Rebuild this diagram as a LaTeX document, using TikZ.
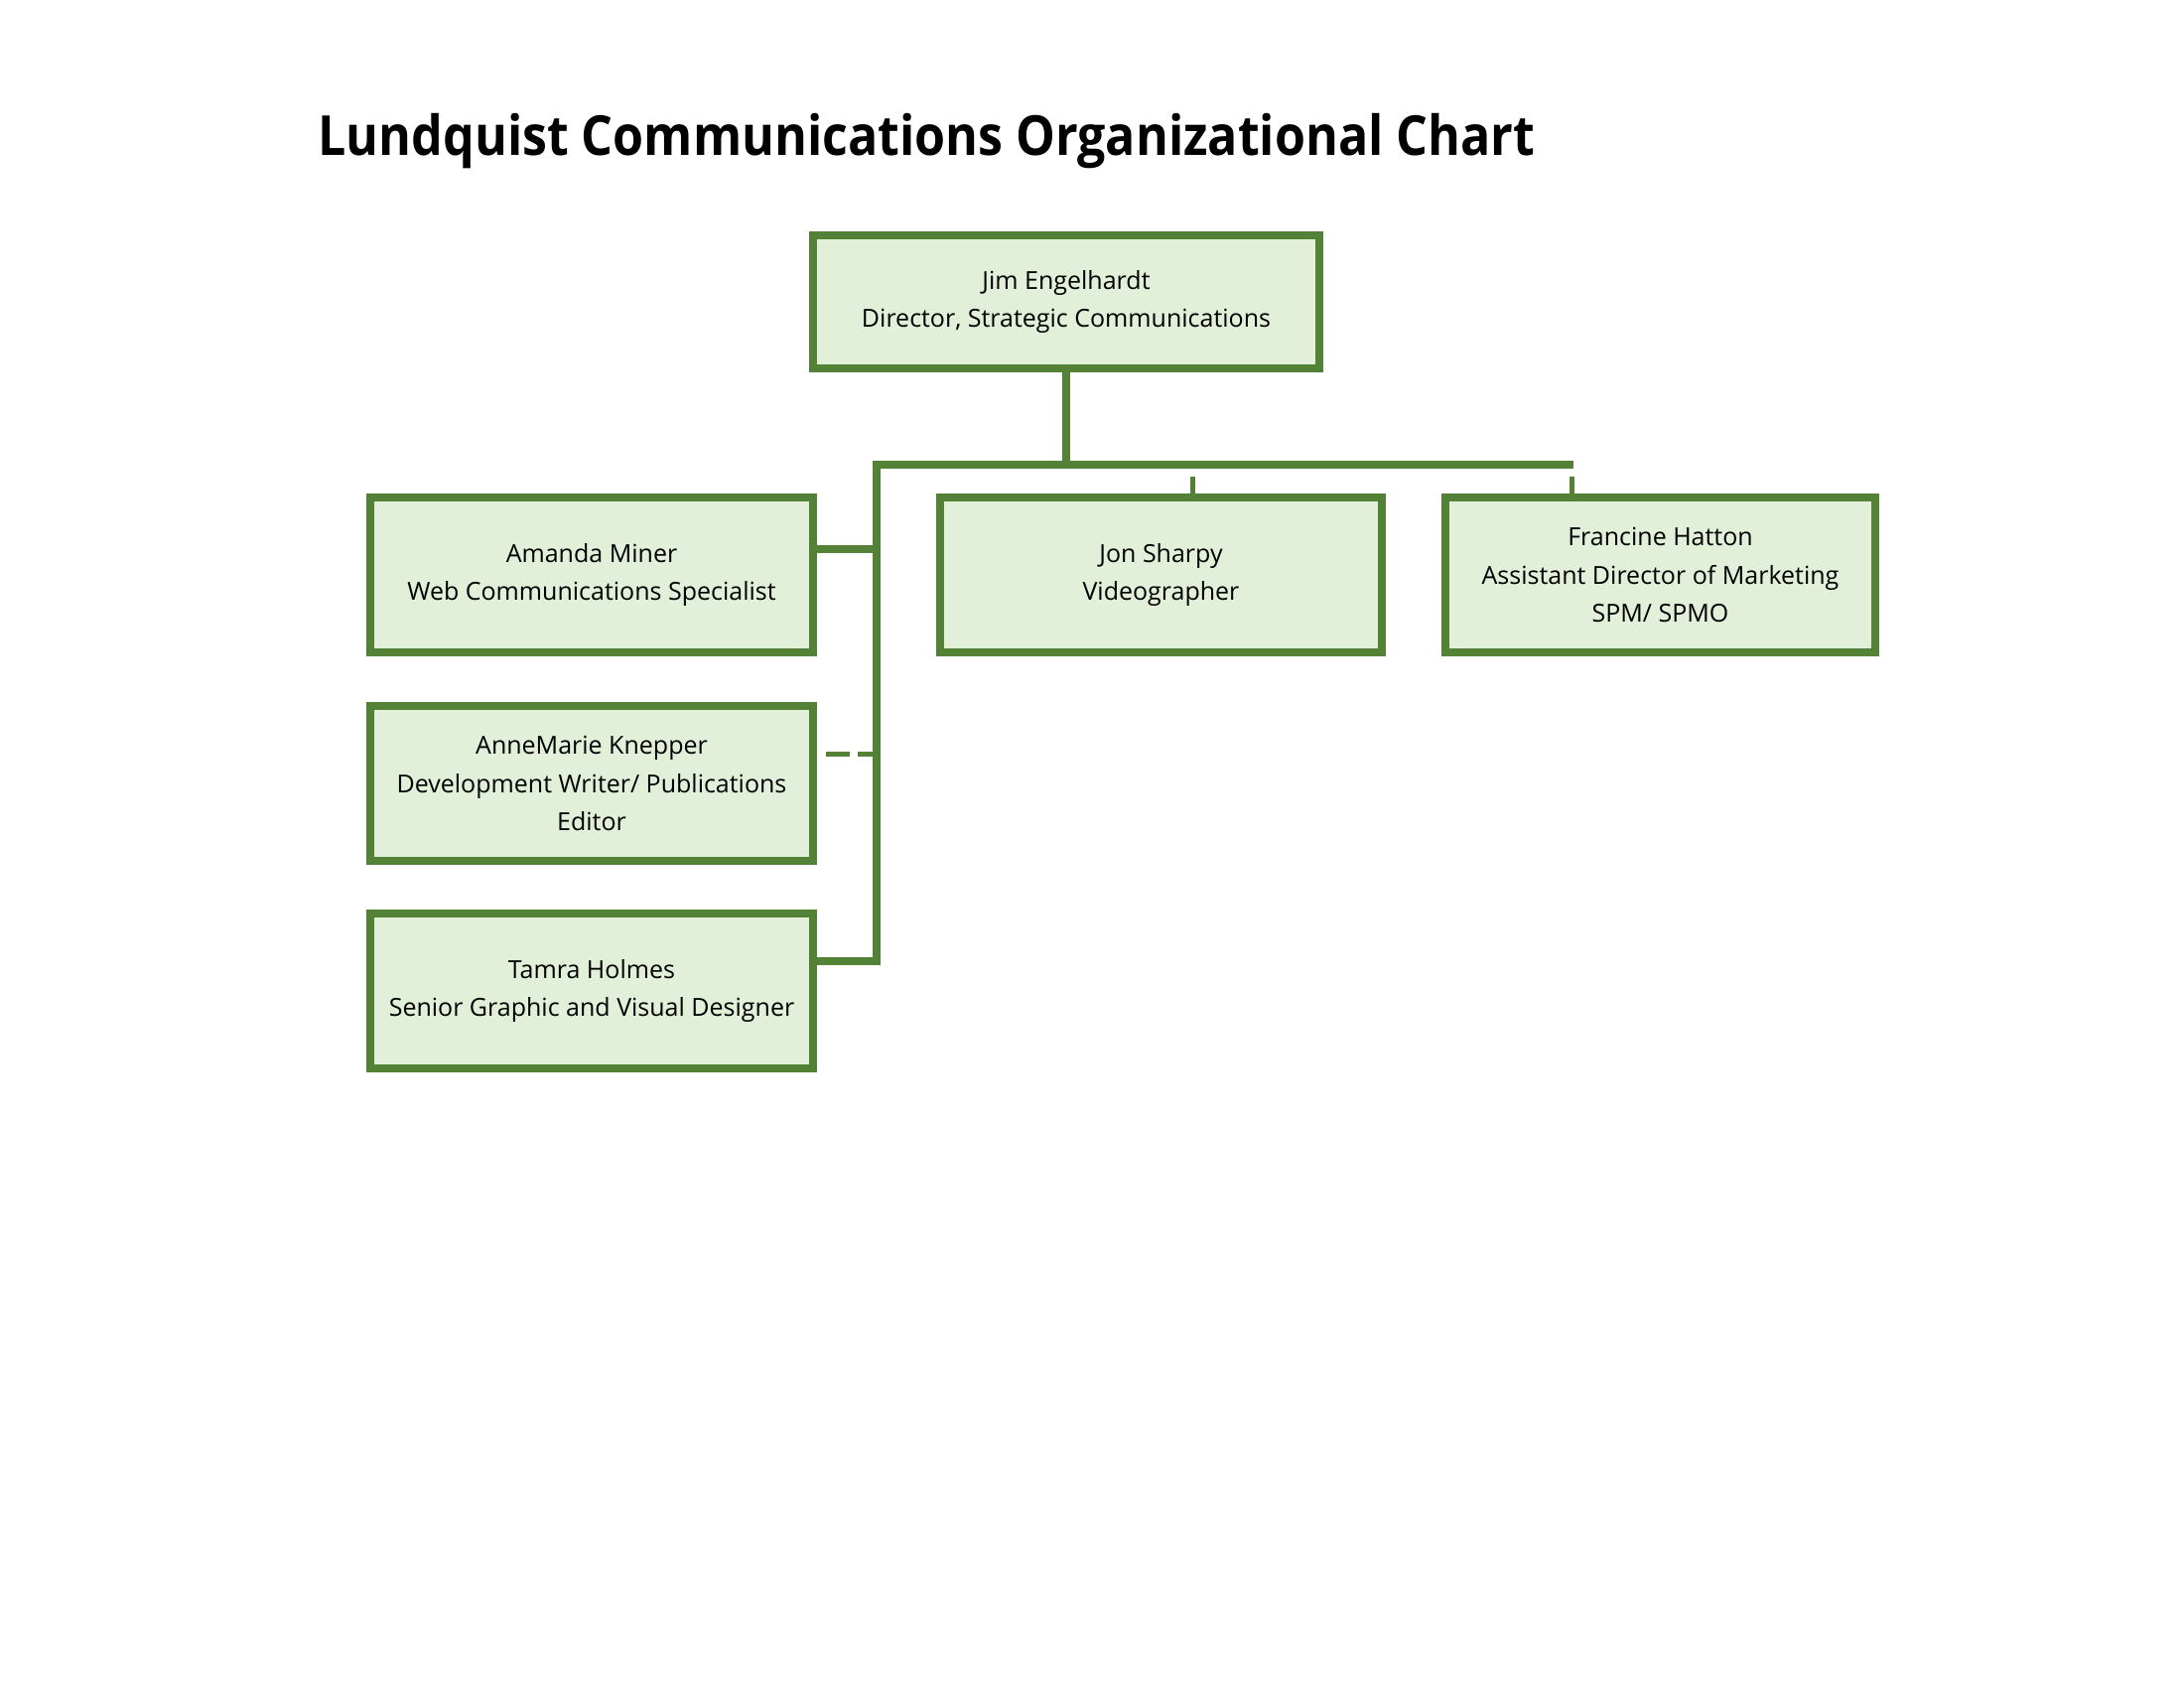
\documentclass[tikz,border=0pt]{standalone}
\usepackage{fontspec}
\setmainfont{Open Sans}
\newfontfamily\titlefont[FakeStretch=0.902]{Open Sans}
\definecolor{boxline}{HTML}{538135}
\definecolor{boxfill}{HTML}{E2EFD9}
\begin{document}
\begin{tikzpicture}[x=0.36pt,y=-0.36pt,
  person/.style={draw=boxline, fill=boxfill, line width=2.7pt, rectangle, outer sep=0pt,
    align=center, inner sep=0pt, font=\fontsize{9}{13.7}\selectfont, anchor=north west,
    minimum height=156*0.36pt},
  bus/.style={draw=boxline, line width=2.7pt},
  tick/.style={draw=boxline, line width=1.8pt},
  dashlink/.style={draw=boxline, line width=1.8pt, dash pattern=on 6.8pt off 2.9pt on 8.6pt off 20pt}]
\useasboundingbox[fill=white] (0,0) rectangle (2200,1700);
\node[anchor=base west, inner sep=0pt, font=\titlefont\fontsize{20}{24}\selectfont\bfseries] (title) at (320,157) {Lundquist Communications Organizational Chart};
\node[person, minimum width=510*0.36pt, minimum height=134*0.36pt] (dir) at (819,237) {Jim Engelhardt\\Director, Strategic Communications};
\node[person, minimum width=446*0.36pt] (am) at (373,501) {Amanda Miner\\Web Communications Specialist};
\node[person, minimum width=446*0.36pt] (anne) at (373,711) {AnneMarie Knepper\\Development Writer/ Publications\\Editor};
\node[person, minimum width=446*0.36pt] (tam) at (373,920) {Tamra Holmes\\Senior Graphic and Visual Designer};
\node[person, minimum width=445*0.36pt] (jon) at (947,501) {Jon Sharpy\\Videographer};
\node[person, minimum width=433*0.36pt] (fran) at (1456,501) {Francine Hatton\\Assistant Director of Marketing\\SPM/ SPMO};
% bus coordinates
\coordinate (busL) at (883,468);
\coordinate (busR) at (1585,468);
\coordinate (busB) at (883,968);
\coordinate (amJ) at (883,553);
\coordinate (anJ) at (883,760);
\coordinate (jonT) at (1201,480);
\coordinate (franT) at (1583,480);
\draw[bus] (dir.south) -- (dir.south |- busL);
\draw[bus] (busR) -- (busL) -- (busB) -- (tam.east |- busB);
\draw[bus] (amJ) -- (am.east |- amJ);
\draw[dashlink] (anJ) -- (anne.east |- anJ);
\draw[tick] (jonT) -- (jonT |- jon.north);
\draw[tick] (franT) -- (franT |- fran.north);
\end{tikzpicture}
\end{document}
